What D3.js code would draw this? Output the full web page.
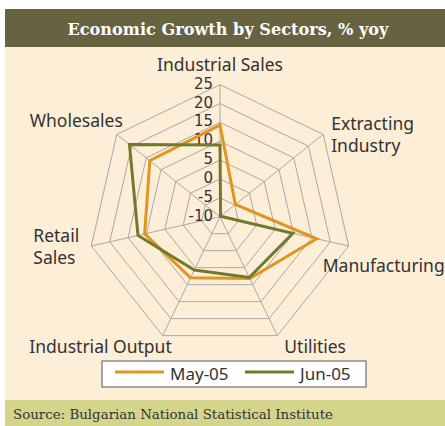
<!DOCTYPE html>
<html>
<head>
<meta charset="utf-8">
<script src="https://cdn.jsdelivr.net/npm/d3@7"></script>
<style>
  body { margin: 0; background: #fff; }
  text { font-family: "Noto Sans", sans-serif; }
</style>
</head>
<body>
<script>
// radar chart of sector growth, two months
var categories = ['Industrial Sales', 'Extracting Industry', 'Manufacturing', 'Utilities',
                  'Industrial Output', 'Retail Sales', 'Wholesales'];
var may05 = [14.3, -4.8, 16.3, 8.2, 8.0, 10.5, 13.8];
var jun05 = [9.0, -9.8, 9.8, 7.9, 5.7, 12.3, 20.7];
var ticks = [-10, -5, 0, 5, 10, 15, 20, 25];
var seriesNames = ['May-05', 'Jun-05'];
var seriesColors = ['#e0951f', '#6f7a2b'];

var W = 445, H = 426;
var cx = 220, cy = 216.7, R = 132;

var svg = d3.select('body').append('svg')
  .attr('width', W)
  .attr('height', H);

// panels
svg.append('rect').attr('x', 5).attr('y', 9).attr('width', W - 5).attr('height', 38).attr('fill', '#676340');
svg.append('rect').attr('x', 5).attr('y', 47).attr('width', W - 5).attr('height', 353).attr('fill', '#fdeed7');
svg.append('rect').attr('x', 5).attr('y', 400).attr('width', W - 5).attr('height', 26).attr('fill', '#d4d58a');

svg.append('text')
  .attr('x', 228).attr('y', 35)
  .attr('text-anchor', 'middle')
  .style('font-family', '"DejaVu Serif", serif')
  .style('font-weight', 'bold')
  .style('font-size', '17px')
  .attr('textLength', 321).attr('lengthAdjust', 'spacingAndGlyphs')
  .attr('fill', '#fff')
  .text('Economic Growth by Sectors, % yoy');

svg.append('text')
  .attr('x', 13).attr('y', 419)
  .style('font-family', '"DejaVu Serif", serif')
  .style('font-size', '13px')
  .attr('textLength', 320).attr('lengthAdjust', 'spacingAndGlyphs')
  .attr('fill', '#333')
  .text('Source: Bulgarian National Statistical Institute');

var r = d3.scaleLinear().domain([-10, 25]).range([0, R]);
var n = categories.length;
var angle = function(i) { return i * 2 * Math.PI / n; };
var pt = function(i, v) {
  return [cx + r(v) * Math.sin(angle(i)), cy - r(v) * Math.cos(angle(i))];
};

var g = svg.append('g');

// rings
ticks.slice(1).forEach(function(t) {
  g.append('polygon')
    .attr('points', categories.map(function(c, i) { return pt(i, t).join(','); }).join(' '))
    .attr('fill', 'none')
    .attr('stroke', '#a9a9a9')
    .attr('stroke-width', 1);
});
// spokes
categories.forEach(function(c, i) {
  var p = pt(i, 25);
  g.append('line')
    .attr('x1', cx).attr('y1', cy).attr('x2', p[0]).attr('y2', p[1])
    .attr('stroke', '#a9a9a9').attr('stroke-width', 1);
});

// tick labels
g.selectAll('.tick').data(ticks).enter().append('text')
  .attr('x', cx - 7)
  .attr('y', function(d) { return cy - r(d) + 4; })
  .attr('text-anchor', 'end')
  .style('font-family', '"DejaVu Sans", sans-serif')
  .style('font-size', '15px')
  .attr('fill', '#333')
  .text(function(d) { return d; });

// series
var line = d3.line().curve(d3.curveLinearClosed);
[may05, jun05].forEach(function(s, k) {
  g.append('path')
    .attr('d', line(s.map(function(v, i) { return pt(i, v); })))
    .attr('fill', 'none')
    .attr('stroke', seriesColors[k])
    .attr('stroke-width', 3)
    .attr('stroke-linejoin', 'miter');
});

// category labels: anchor, offset from outer vertex
var labelSetup = [
  { anchor: 'middle', dx: 0, dy: -20 },
  { anchor: 'start', dx: 8, dy: 1 },
  { anchor: 'start', dx: -26, dy: 20 },
  { anchor: 'start', dx: 7, dy: 11 },
  { anchor: 'end', dx: 9, dy: 11 },
  { anchor: 'start', dx: -58, dy: 0.5 },
  { anchor: 'end', dx: 6, dy: -13 }
];
var splitLabels = { 'Extracting Industry': ['Extracting', 'Industry'], 'Retail Sales': ['Retail', 'Sales'] };
categories.forEach(function(c, i) {
  var p = pt(i, 25), s = labelSetup[i];
  var lines = splitLabels[c] || [c];
  var t = svg.append('text')
    .attr('text-anchor', s.anchor)
    .style('font-size', '17.5px')
    .attr('fill', '#333');
  lines.forEach(function(l, j) {
    t.append('tspan')
      .attr('x', p[0] + s.dx)
      .attr('y', p[1] + s.dy + (j - (lines.length - 1) / 2) * 22 + 6)
      .text(l);
  });
});

// legend
var lg = svg.append('g');
lg.append('rect').attr('x', 102).attr('y', 361).attr('width', 264).attr('height', 26)
  .attr('fill', '#fff').attr('stroke', '#555').attr('stroke-width', 1);
var legendX = [115, 245];
seriesNames.forEach(function(name, k) {
  lg.append('line')
    .attr('x1', legendX[k]).attr('x2', legendX[k] + 49)
    .attr('y1', 372).attr('y2', 372)
    .attr('stroke', seriesColors[k]).attr('stroke-width', 3);
  lg.append('text')
    .attr('x', legendX[k] + 55).attr('y', 380)
    .style('font-size', '17px')
    .attr('fill', '#333')
    .text(name);
});
</script>
</body>
</html>
